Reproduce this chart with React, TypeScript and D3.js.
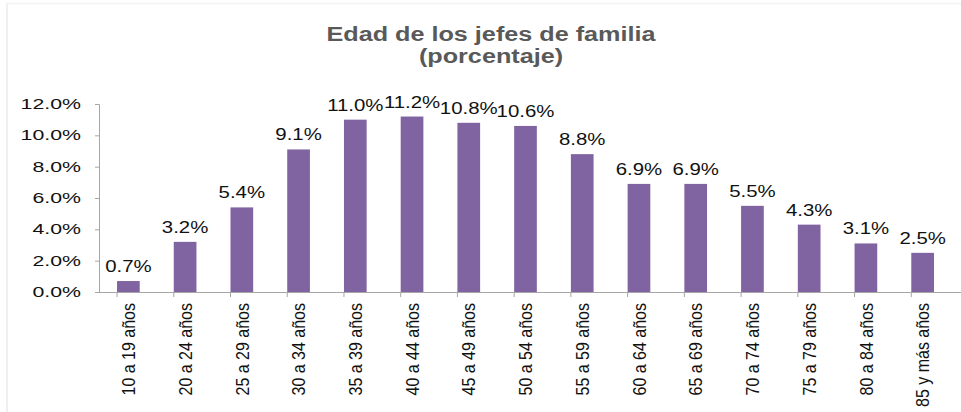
import React, { useEffect, useRef } from 'react'
import * as d3 from 'd3'

// age groups and share of household heads (%)
const categories = [
  '10 a 19 años', '20 a 24 años', '25 a 29 años', '30 a 34 años', '35 a 39 años',
  '40 a 44 años', '45 a 49 años', '50 a 54 años', '55 a 59 años', '60 a 64 años',
  '65 a 69 años', '70 a 74 años', '75 a 79 años', '80 a 84 años', '85 y más años'
]
const values = [0.7, 3.2, 5.4, 9.1, 11.0, 11.2, 10.8, 10.6, 8.8, 6.9, 6.9, 5.5, 4.3, 3.1, 2.5]
const yTicks = [0, 2, 4, 6, 8, 10, 12]
const titleLines = ['Edad de los jefes de familia', '(porcentaje)']

const W = 961
const H = 412
// the source picture is stretched sideways, so text gets the same stretch
const SX = 1.2
const SX_Y = 1.47 // y labels are even wider in the source
const FONT = '"Liberation Sans", Arial, sans-serif'

export default function App() {
  const ref = useRef<SVGSVGElement>(null)

  useEffect(() => {
    const svg = d3.select(ref.current)
    svg.selectAll('*').remove()

    const left = 100, right = 951, top = 104, bottom = 292

    let x = d3.scaleBand<string>()
      .domain(categories)
      .range([left, right])
      .paddingInner(0.6)
      .paddingOuter(0.3)
    let y = d3.scaleLinear().domain([0, 12]).range([bottom, top])

    // faint frame
    svg.append('line').attr('x1', 7).attr('x2', 7).attr('y1', 3).attr('y2', H)
      .attr('stroke', '#f0f0f0').attr('stroke-width', 2)
    svg.append('line').attr('x1', 7).attr('x2', W).attr('y1', 3.5).attr('y2', 3.5)
      .attr('stroke', '#f3f3f3').attr('stroke-width', 1.5)

    // title
    svg.selectAll('.title')
      .data(titleLines)
      .enter()
      .append('text')
      .attr('class', 'title')
      .attr('transform', (d, i) => `translate(491,${41 + i * 22}) scale(${SX},1)`)
      .attr('text-anchor', 'middle')
      .style('font-family', FONT)
      .style('font-size', '21px')
      .style('font-weight', 'bold')
      .style('fill', '#595959')
      .text(d => d)

    // y axis (line + ticks from d3, labels drawn by hand so they can be stretched)
    let yAxis = svg.append('g')
      .attr('transform', `translate(${left - 1},0)`)
      .call(d3.axisLeft(y).tickValues(yTicks).tickSize(4).tickFormat(() => ''))
    yAxis.select('.domain').attr('stroke', '#a6a6a6')
    yAxis.selectAll('.tick line').attr('stroke', '#a6a6a6')

    svg.selectAll('.yl')
      .data(yTicks)
      .enter()
      .append('text')
      .attr('class', 'yl')
      .attr('transform', d => `translate(${left - 19},${y(d) + 5}) scale(${SX_Y},1)`)
      .attr('text-anchor', 'end')
      .style('font-family', FONT)
      .style('font-size', '14.5px')
      .style('fill', '#111')
      .text(d => d.toFixed(1) + '%')

    // bars
    svg.selectAll('.bar')
      .data(values)
      .enter()
      .append('rect')
      .attr('class', 'bar')
      .attr('x', (d, i) => x(categories[i]))
      .attr('width', x.bandwidth())
      .attr('y', d => y(d))
      .attr('height', d => bottom - y(d))
      .attr('fill', '#8064a2')

    // value labels
    svg.selectAll('.val')
      .data(values)
      .enter()
      .append('text')
      .attr('class', 'val')
      .attr('transform', (d, i) =>
        `translate(${x(categories[i]) + x.bandwidth() / 2},${y(d) - 9}) scale(${SX},1)`)
      .attr('text-anchor', 'middle')
      .style('font-family', FONT)
      .style('font-size', '17px')
      .style('fill', '#111')
      .text(d => d.toFixed(1) + '%')

    // x axis, Excel style ticks between categories
    let step = x.step()
    let x0 = x(categories[0]) - x.paddingOuter() * step + x.paddingInner() * step / 2
    let bounds = d3.range(categories.length + 1).map(i => x0 + i * step)
    let gx = svg.append('g')
    gx.append('line')
      .attr('x1', left - 1).attr('x2', bounds[bounds.length - 1])
      .attr('y1', bottom + 0.5).attr('y2', bottom + 0.5)
      .attr('stroke', '#a6a6a6')
    gx.selectAll('.xt')
      .data(bounds)
      .enter()
      .append('line')
      .attr('class', 'xt')
      .attr('x1', d => d).attr('x2', d => d)
      .attr('y1', bottom).attr('y2', bottom + 5)
      .attr('stroke', '#a6a6a6')

    gx.selectAll('.xl')
      .data(categories)
      .enter()
      .append('text')
      .attr('class', 'xl')
      .attr('transform', d =>
        `translate(${x(d) + x.bandwidth() / 2},${bottom + 11}) scale(${SX},1) rotate(-90)`)
      .attr('text-anchor', 'end')
      .attr('dy', '0.35em')
      .style('font-family', FONT)
      .style('font-size', '16px')
      .style('fill', '#111')
      .text(d => d)
  }, [])

  return (
    <div style={{ position: 'absolute', left: 0, top: 0 }}>
      <svg ref={ref} width={W} height={H} style={{ display: 'block', background: '#fff' }} />
    </div>
  )
}
